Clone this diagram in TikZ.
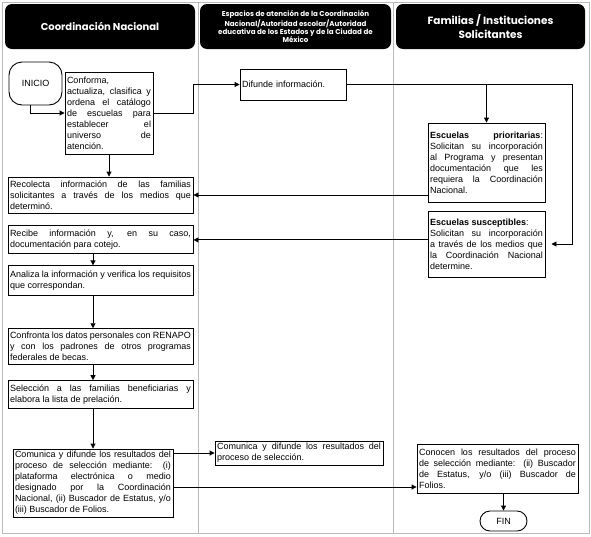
\documentclass[tikz,border=0pt]{standalone}
\usepackage{fontspec}
\setmainfont{Liberation Sans}
\newfontfamily\headfont{Poppins}
\usetikzlibrary{positioning,arrows.meta}

\begin{document}
\begin{tikzpicture}[
		x=1pt, y=-1pt,
		lane/.style={draw=gray!55, line width=0.8pt},
		header/.style={
			fill=black,
			rounded corners=7pt,
			text=white,
			align=center,
			minimum height=45pt,
			inner sep=2pt
		},
		box/.style={
			draw,
			line width=0.9pt,
			inner xsep=2pt,
			inner ysep=1pt,
			align=justify,
			font=\fontsize{9}{11}\selectfont
		},
		term/.style={draw, line width=0.9pt, font=\fontsize{9}{11}\selectfont},
		arr/.style={-{Triangle[length=5pt,width=5pt]}, line width=0.9pt}
		]
		
		\useasboundingbox (0,0) rectangle (591,536);
		
		% carriles
		\draw[lane] (2,2) rectangle (589,533);
		\draw[lane] (198,2) -- (198,533);
		\draw[lane] (393,2) -- (393,533);
		
		\node (hcoord) [header, minimum width=190pt, font=\headfont\bfseries\fontsize{10}{12}\selectfont] at (100,26.5) {Coordinación Nacional};
		\node (hesp) [header, minimum width=191pt, font=\headfont\bfseries\fontsize{7.1}{8.2}\selectfont] at (295.5,26.5) {Espacios de atención de la Coordinación\\ Nacional/Autoridad escolar/Autoridad\\ educativa de los Estados y de la Ciudad de\\ México};
		\node (hfam) [header, minimum width=189pt, font=\headfont\bfseries\fontsize{10.5}{14}\selectfont] at (490.5,26.5) {Familias / Instituciones\\ Solicitantes};
		
		% Coordinacion Nacional
		\node (inicio) [term, rounded corners=13pt, minimum width=53pt, minimum height=43pt] at (35.5,83.5) {INICIO};
		\node (conforma) [box, text width=84pt, minimum height=82pt] at (109,113) {Conforma,\linebreak actualiza, clasifica y\linebreak ordena el catálogo\linebreak de escuelas para\linebreak establecer el\linebreak universo de\linebreak atención.};
		\node (recolecta) [box, text width=181pt, minimum height=36pt] at (100.5,195) {Recolecta información de las familias\linebreak solicitantes a través de los medios que\linebreak determinó.};
		\node (recibe) [box, text width=181pt, minimum height=28pt, below=12pt of recolecta] {Recibe información y, en su caso,\linebreak documentación para cotejo.};
		\node (analiza) [box, text width=181pt, minimum height=30pt, below=11pt of recibe] {Analiza la información y verifica los requisitos\linebreak que correspondan.};
		\node (confronta) [box, text width=181pt, minimum height=36pt, below=32pt of analiza] {Confronta los datos personales con RENAPO\linebreak y con los padrones de otros programas\linebreak federales de becas.};
		\node (seleccion) [box, text width=181pt, minimum height=28pt, below=15pt of confronta] {Selección a las familias beneficiarias y\linebreak elabora la lista de prelación.};
		\node (comunica) [box, text width=156pt, minimum height=68pt] at (93,483) {Comunica y difunde los resultados del\linebreak proceso de selección mediante: (i)\linebreak plataforma electrónica o medio\linebreak designado por la Coordinación\linebreak Nacional, (ii) Buscador de Estatus, y/o\linebreak (iii) Buscador de Folios.};
		
		% Espacios de atencion
		\node (difunde) [box, align=left, text width=102pt, minimum height=31pt] at (293,84.5) {Difunde información.};
		\node (comunicados) [box, text width=164pt, minimum height=24pt] at (299,453) {Comunica y difunde los resultados del\linebreak proceso de selección.};
		
		% Familias
		\node (prior) [box, text width=113pt, minimum height=79pt] at (486.5,162.5) {\textbf{Escuelas prioritarias}:\linebreak Solicitan su incorporación\linebreak al Programa y presentan\linebreak documentación que les\linebreak requiera la Coordinación\linebreak Nacional.};
		\node (suscep) [box, text width=113pt, minimum height=66pt] at (486.5,244) {\textbf{Escuelas susceptibles}:\\ Solicitan su incorporación\linebreak a través de los medios que\linebreak la Coordinación Nacional\linebreak determine.};
		\node (conocen) [box, text width=157pt, minimum height=49pt] at (497.5,468.5) {Conocen los resultados del proceso\linebreak de selección mediante: (ii) Buscador\linebreak de Estatus, y/o (iii) Buscador de\linebreak Folios.};
		\node (fin) [term, rounded corners=10pt, minimum width=47pt, minimum height=20pt] at (503.5,521) {FIN};
		
		\coordinate (giro) at (572,84.5);
		
		\draw[arr] ([xshift=-5.5pt]inicio.south) |- (conforma);
		\draw[arr] (conforma.east) -- ++(40,0) |- (difunde.west);
		\draw[arr] (difunde.east) -- (giro) |- ([xshift=6pt]suscep.east);
		\draw[arr] (difunde.east -| prior.north) -- (prior.north);
		\draw[arr] (prior.west |- recolecta.east) -- (recolecta.east);
		\draw[arr] (suscep.west |- recibe.east) -- (recibe.east);
		
		\draw[arr] (conforma) -- (conforma |- recolecta.north);
		\draw[arr] (recibe.south -| comunica) -- (analiza.north -| comunica);
		\draw[arr] (analiza.south -| comunica) -- (confronta.north -| comunica);
		\draw[arr] (confronta.south -| comunica) -- (seleccion.north -| comunica);
		\draw[arr] (seleccion.south -| comunica) -- (comunica.north);
		
		\draw[arr] (comunica.east |- comunicados) -- (comunicados.west);
		\draw[arr] ([yshift=-4pt]comunica.east) -- ([yshift=-4pt]comunica.east -| conocen.west);
		\draw[arr] (fin.north |- conocen.south) -- (fin.north);
		
	\end{tikzpicture}
\end{document}
